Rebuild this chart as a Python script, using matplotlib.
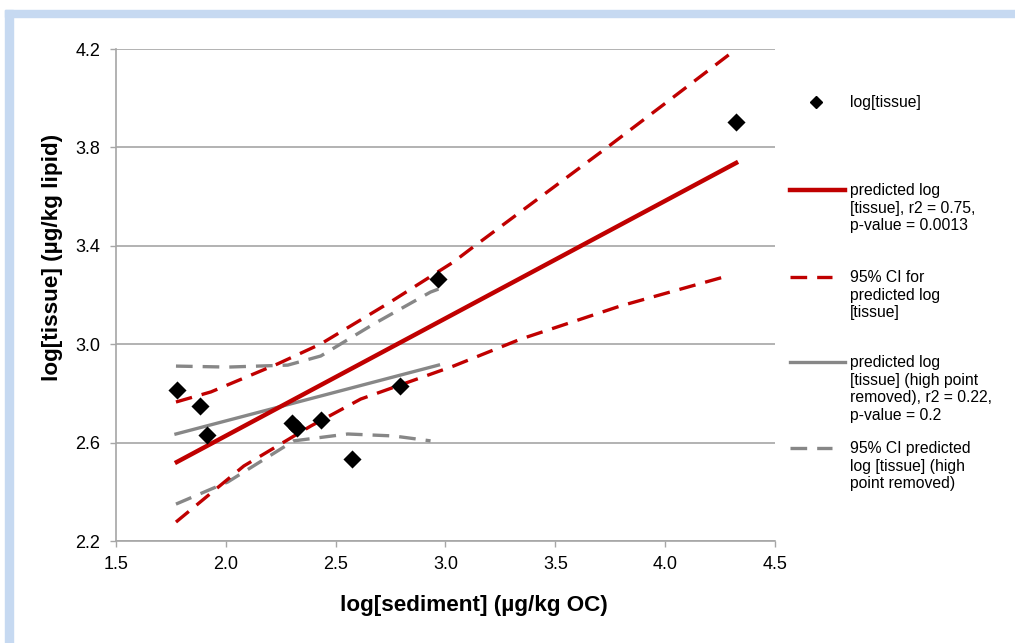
import matplotlib
matplotlib.use('Agg')
import matplotlib.pyplot as plt
from matplotlib.lines import Line2D
from matplotlib.patches import Rectangle

plt.rcParams['font.family'] = ['Liberation Sans', 'DejaVu Sans']

# measured points
sed = [1.777, 1.882, 1.914, 2.300, 2.323, 2.432, 2.573, 2.791, 2.968, 4.323]
tis = [2.814, 2.749, 2.631, 2.680, 2.659, 2.692, 2.533, 2.830, 3.265, 3.903]

# fitted line (all points)
fit_x = [1.777, 4.323]
fit_y = [2.521, 3.737]
# 95% CI, all points
ci_up_x = [1.773, 1.932, 2.236, 2.432, 2.750, 3.036, 3.114, 3.736, 4.009, 4.295]
ci_up_y = [2.765, 2.806, 2.920, 3.001, 3.172, 3.334, 3.387, 3.800, 3.985, 4.180]
ci_lo_x = [1.773, 2.082, 2.386, 2.614, 3.036, 3.340, 3.795, 4.282]
ci_lo_y = [2.277, 2.505, 2.667, 2.777, 2.911, 3.020, 3.155, 3.277]

# fitted line, high point removed
fit2_x = [1.773, 2.968]
fit2_y = [2.635, 2.915]
ci2_up_x = [1.773, 2.009, 2.282, 2.432, 2.673, 2.932, 2.968]
ci2_up_y = [2.911, 2.907, 2.915, 2.952, 3.082, 3.212, 3.224]
ci2_lo_x = [1.773, 2.009, 2.309, 2.555, 2.764, 2.932]
ci2_lo_y = [2.350, 2.440, 2.607, 2.635, 2.627, 2.607]

labels = ['log[tissue]',
          'predicted log\n[tissue], r2 = 0.75,\np-value = 0.0013',
          '95% CI for\npredicted log\n[tissue]',
          'predicted log\n[tissue] (high point\nremoved), r2 = 0.22,\np-value = 0.2',
          '95% CI predicted\nlog [tissue] (high\npoint removed)']

RED = '#c00000'
GRAY = '#878787'
W, H = 1015, 643

fig = plt.figure(figsize=(W / 100, H / 100), dpi=100)
ax = fig.add_axes([116 / W, 1 - 541 / H, (775 - 116) / W, (541 - 49) / H])

# light blue frame
fig.patches.append(Rectangle((5 / W, 1 - 17 / H), 1, 7 / H, transform=fig.transFigure,
                             color='#c6d9f1', zorder=0))
fig.patches.append(Rectangle((5 / W, 0), 8 / W, 1 - 10 / H, transform=fig.transFigure,
                             color='#c6d9f1', zorder=0))

dash = (5, 3)
ax.plot(ci2_up_x, ci2_up_y, color=GRAY, lw=2.4, dashes=dash, zorder=2)
ax.plot(ci2_lo_x, ci2_lo_y, color=GRAY, lw=2.4, dashes=dash, zorder=2)
ax.plot(fit2_x, fit2_y, color=GRAY, lw=2.4, zorder=3)
ax.plot(ci_up_x, ci_up_y, color=RED, lw=2.4, dashes=dash, zorder=3)
ax.plot(ci_lo_x, ci_lo_y, color=RED, lw=2.4, dashes=dash, zorder=3)
ax.plot(fit_x, fit_y, color=RED, lw=3.2, zorder=4)
ax.scatter(sed, tis, marker='D', s=85, color='black', zorder=5, linewidths=0)

ax.set_xlim(1.5, 4.5)
ax.set_ylim(2.2, 4.2)
ax.set_xticks([1.5, 2.0, 2.5, 3.0, 3.5, 4.0, 4.5])
ax.set_yticks([2.2, 2.6, 3.0, 3.4, 3.8, 4.2])
ax.set_xticklabels(['%.1f' % v for v in ax.get_xticks()])
ax.set_yticklabels(['%.1f' % v for v in ax.get_yticks()])
ax.grid(axis='y', color='#a6a6a6', lw=1.2)
ax.set_axisbelow(True)
for s in ['top', 'right']:
    ax.spines[s].set_visible(False)
for s in ['left', 'bottom']:
    ax.spines[s].set_color('#a6a6a6')
    ax.spines[s].set_linewidth(1.2)
ax.tick_params(colors='#a6a6a6', labelcolor='black', labelsize=13, length=4.5, width=1)
ax.tick_params(axis='y', pad=7)
ax.tick_params(axis='x', pad=6)
ax.set_xlabel('log[sediment] (µg/kg OC)', fontsize=16.2, fontweight='bold')
ax.set_ylabel('log[tissue] (µg/kg lipid)', fontsize=16.2, fontweight='bold')
ax.xaxis.set_label_coords(0.543, -0.109)
ax.yaxis.set_label_coords(-0.081, 0.577)

# legend, placed by hand to mimic the spreadsheet layout
def fx(px):
    return px / W

def fy(py):
    return 1 - py / H

legend_y = [102, 190, 277, 362, 448]
fig.add_artist(Line2D([fx(816)], [fy(legend_y[0])], marker='D', color='black',
                      markersize=6, transform=fig.transFigure))
fig.add_artist(Line2D([fx(790), fx(845)], [fy(legend_y[1])] * 2, color=RED, lw=3.2,
                      transform=fig.transFigure))
fig.add_artist(Line2D([fx(790), fx(832)], [fy(legend_y[2])] * 2, color=RED, lw=2.4,
                      dashes=dash, transform=fig.transFigure))
fig.add_artist(Line2D([fx(790), fx(845)], [fy(legend_y[3])] * 2, color=GRAY, lw=2.4,
                      transform=fig.transFigure))
fig.add_artist(Line2D([fx(790), fx(832)], [fy(legend_y[4])] * 2, color=GRAY, lw=2.4,
                      dashes=dash, transform=fig.transFigure))
for lab, yy in zip(labels, legend_y):
    fig.text(fx(850), fy(yy - 7), lab, fontsize=11.3, va='top', ha='left',
             linespacing=1.22)

fig.savefig('out.png', dpi=100)
